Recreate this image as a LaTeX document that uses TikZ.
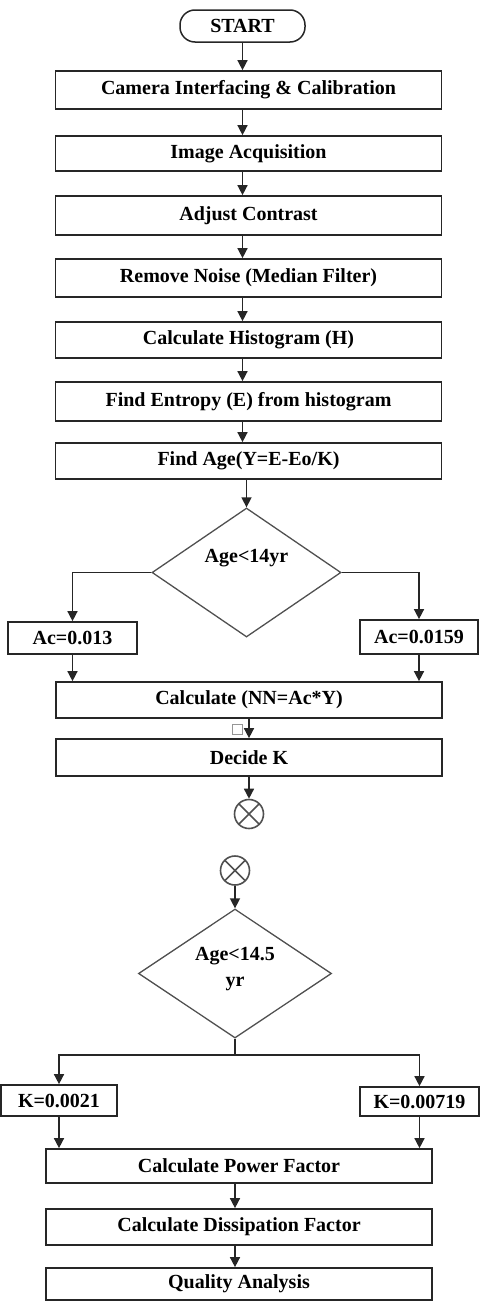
\documentclass[tikz,border=0pt]{standalone}
\usepackage{fontspec}
\setmainfont{Liberation Serif}
\usetikzlibrary{arrows.meta,shapes.geometric}
\definecolor{framegray}{RGB}{38,38,38}
\definecolor{diagray}{RGB}{80,80,80}
\definecolor{speckgray}{RGB}{150,150,150}

\begin{document}
\begin{tikzpicture}[x=1pt,y=-1pt,line width=1.5pt,draw=framegray,line join=miter,
    font=\fontsize{20}{26}\selectfont\bfseries,
    stepbox/.style={draw,rectangle,inner sep=0pt,line width=1.7pt,minimum width=386pt},
    valbox/.style={draw,rectangle,inner sep=0pt,line width=1.7pt},
    decision/.style={draw=diagray,diamond,inner sep=0pt,line width=1.3pt},
    joint/.style={draw=diagray,circle,inner sep=0pt,minimum size=29pt,line width=1.6pt,
      path picture={\draw[diagray,line width=1.6pt] (path picture bounding box.north west) -- (path picture bounding box.south east)
        (path picture bounding box.north east) -- (path picture bounding box.south west);}},
    arr/.style={-{Triangle[length=10pt,width=10pt]}}]
    \useasboundingbox (0,0) rectangle (480,1301);
    % upper chart
    \node[draw,rounded corners=15pt,inner sep=0pt,minimum width=125pt,minimum height=32pt] (start) at (242.5,26) {START};
    \foreach \n/\y/\h/\t in {b1/90/38/{Camera Interfacing \& Calibration},b2/153.5/35/{Image Acquisition},
      b3/215.5/39/{Adjust Contrast},b4/278/38/{Remove Noise (Median Filter)},b5/340/36/{Calculate Histogram (H)},
      b6/401.5/39/{Find Entropy (E) from histogram},b7/461/36/{Find Age(Y=E-Eo/K)}}{
      \node[stepbox,minimum height=\h pt] (\n) at (248.5,\y) {\t};}
    \node[decision,minimum width=189pt,minimum height=129pt,label={[yshift=14pt]center:Age<14yr}] (d1) at (246.5,572.5) {};
    \node[valbox,minimum width=129pt,minimum height=32pt] (ac1) at (72.5,638) {Ac=0.013};
    \node[valbox,minimum width=118pt,minimum height=34pt] (ac2) at (419,637) {Ac=0.0159};
    \node[stepbox,minimum height=36pt] (nn) at (249,700) {Calculate (NN=Ac*Y)};
    \node[draw=speckgray,line width=0.9pt,inner sep=0pt,minimum size=10pt] (sq) at (237,729) {};
    \node[stepbox,minimum height=37pt] (dk) at (249,757.5) {Decide K};
    \node[joint] (c1) at (249,814) {};
    % lower chart
    \node[joint] (c2) at (235,870.5) {};
    \node[decision,minimum width=193pt,minimum height=129pt,label={[yshift=4pt,align=center]center:Age<14.5\\yr}] (d2) at (235,973.5) {};
    \coordinate (fork) at (235,1055);
    \node[valbox,minimum width=116pt,minimum height=31pt] (k1) at (59,1100.5) {K=0.0021};
    \node[valbox,minimum width=119pt,minimum height=29pt] (k2) at (419.5,1101.5) {K=0.00719};
    \node[stepbox,minimum height=34pt] (pf) at (239,1166) {Calculate Power Factor};
    \node[stepbox,minimum height=36pt] (df) at (239,1227) {Calculate Dissipation Factor};
    \node[stepbox,minimum height=32pt] (qa) at (239,1284) {Quality Analysis};
    % connectors
    \draw[arr] (start) -- (start |- b1.north);
    \foreach \a/\b in {b1/b2,b2/b3,b3/b4,b4/b5,b5/b6,b6/b7}{\draw[arr] (\a.south -| start) -- (\b.north -| start);}
    \draw[arr] (b7.south -| d1) -- (d1.north);
    \draw[arr] (d1.west) -| (ac1.north);
    \draw[arr] (d1.east) -| (ac2.north);
    \draw[arr] (ac1.south) -- (ac1.south |- nn.north);
    \draw[arr] (ac2.south) -- (ac2.south |- nn.north);
    \draw[arr] (nn.south -| dk) -- (dk.north);
    \draw[arr] (dk.south -| c1) -- (c1.north);
    \draw[arr] (c2) -- (d2.north);
    \draw (d2.south) -- (fork);
    \draw[arr] (fork) -| (k1.north);
    \draw[arr] (fork) -| (k2.north);
    \draw[arr] (k1.south) -- (k1.south |- pf.north);
    \draw[arr] (k2.south) -- (k2.south |- pf.north);
    \draw[arr] (pf.south -| fork) -- (df.north -| fork);
    \draw[arr] (df.south -| fork) -- (qa.north -| fork);
\end{tikzpicture}
\end{document}
